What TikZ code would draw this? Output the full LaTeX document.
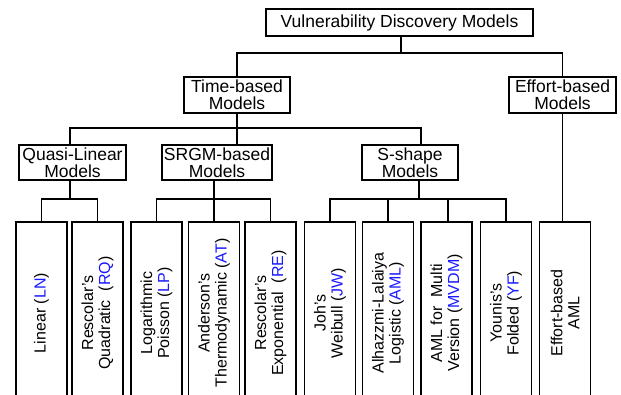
\documentclass[tikz,border=0pt]{standalone}
\usepackage{fontspec}
\setmainfont{Liberation Sans}
\definecolor{abbr}{RGB}{25,25,255}
\newcommand{\ab}[1]{\textcolor{abbr}{#1}}
\begin{document}
\begin{tikzpicture}[x=1pt,y=-1pt,line width=1.2pt,
  box/.style={draw,rectangle,inner sep=0pt,align=center,font=\fontsize{17.5}{17}\selectfont},
  leaf/.style={draw,rectangle,inner sep=0pt,minimum width=51pt,minimum height=182pt},
  leaftext/.style={rotate=90,align=center,inner sep=0pt,font=\fontsize{16}{17}\selectfont}]
\useasboundingbox (0,0) rectangle (621,394);
\clip (0,0) rectangle (621,394);
% upper boxes
\node[box,minimum width=267pt,minimum height=27pt] (top) at (399.5,22.5) {Vulnerability Discovery Models};
\node[box,minimum width=106pt,minimum height=36pt] (time) at (237,95) {Time-based\\Models};
\node[box,minimum width=107pt,minimum height=36pt] (effort) at (562.5,95) {Effort-based\\Models};
\node[box,minimum width=107pt,minimum height=35pt] (quasi) at (72.5,162.5) {Quasi-Linear\\Models};
\node[box,minimum width=110pt,minimum height=35pt] (srgm) at (217,162.5) {SRGM-based\\Models};
\node[box,minimum width=96pt,minimum height=35pt] (sshape) at (410,162.5) {S-shape\\Models};
% leaves
\node[leaf] (ln) at (41.5,313) {};
\node[leaf] (rq) at (97.5,313) {};
\node[leaf] (lp) at (156.5,313) {};
\node[leaf] (at) at (214,313) {};
\node[leaf] (re) at (270.5,313) {};
\node[leaf] (jw) at (330,313) {};
\node[leaf] (aml) at (388,313) {};
\node[leaf] (mvdm) at (446.5,313) {};
\node[leaf] (yf) at (506,313) {};
\node[leaf] (ea) at (565,313) {};
\node[leaftext] (tln) at (ln.center) {Linear (\ab{LN})};
\node[leaftext] (trq) at (rq.center) {Rescolar's\\Quadratic\ \ (\ab{RQ})};
\node[leaftext] (tlp) at (lp.center) {Logarithmic\\Poisson (\ab{LP})};
\node[leaftext] (tat) at (at.center) {Anderson's\\Thermodynamic (\ab{AT})};
\node[leaftext] (tre) at (re.center) {Rescolar's\\Exponential\ \ (\ab{RE})};
\node[leaftext] (tjw) at (jw.center) {Joh's\\Weibull (\ab{JW})};
\node[leaftext] (taml) at (aml.center) {Alhazzmi-Lalaiya\\Logistic (\ab{AML})};
\node[leaftext] (tmvdm) at (mvdm.center) {AML for\ \ Multi\\Version (\ab{MVDM})};
\node[leaftext] (tyf) at (yf.center) {Younis's\\Folded (\ab{YF})};
\node[leaftext] (tea) at (ea.center) {Effort-based\\AML};
% junction coordinates
\coordinate (j0) at (401,53);
\coordinate (j1a) at (70,128);
\coordinate (j1b) at (421,128);
\coordinate (jq) at (70,199);
\coordinate (js) at (214,199);
\coordinate (jsh) at (419,199);
% connectors
\draw (top.south -| j0) -- (j0);
\draw (time.north) |- (effort.north |- j0) -- (effort.north);
\draw (time.south) -- (time.south |- srgm.north);
\draw (j1a |- quasi.north) -- (j1a) -- (j1b) -- (j1b |- sshape.north);
\draw (jq |- quasi.south) -- (jq);
\draw (ln.north) -- (ln.north |- jq) -- (rq.north |- jq) -- (rq.north);
\draw (js |- srgm.south) -- (at.north);
\draw (lp.north) -- (lp.north |- js) -- (re.north |- js) -- (re.north);
\draw (jsh |- sshape.south) -- (jsh);
\draw (jw.north) -- (jw.north |- jsh) -- (yf.north |- jsh) -- (yf.north);
\draw (aml.north |- jsh) -- (aml.north);
\draw (448,199) -- (448,222);
\draw (effort.south) -- (effort.south |- ea.north);
\end{tikzpicture}
\end{document}
